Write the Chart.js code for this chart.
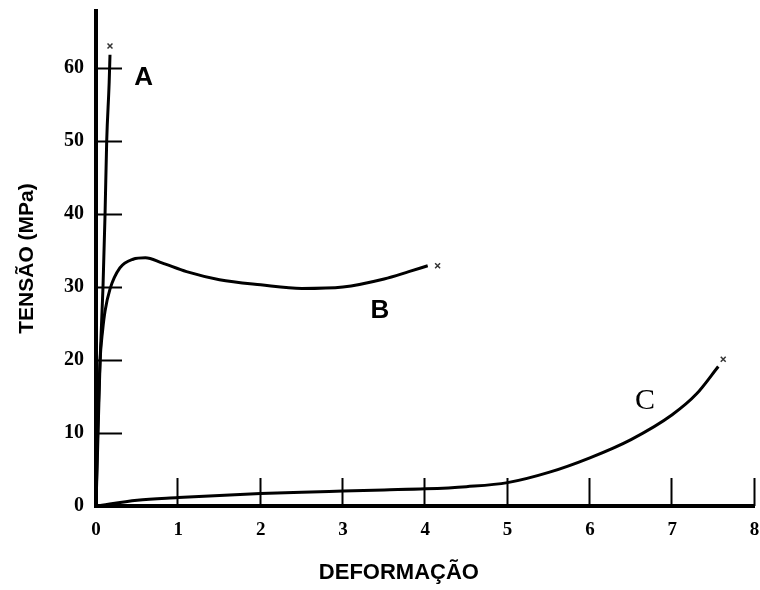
<!DOCTYPE html>
<html>
<head>
<meta charset="utf-8">
<script src="https://cdn.jsdelivr.net/npm/chart.js@4/dist/chart.umd.min.js"></script>
<style>
  html, body { margin: 0; padding: 0; background: #fff; }
  #chart { display: block; }
</style>
</head>
<body>
<canvas id="chart" width="760" height="590"></canvas>
<script>
// strain (x) and stress in MPa (y)
const strainA = [0, 0.02, 0.05, 0.085, 0.11, 0.13, 0.16, 0.17];
const stressA = [0, 8, 20, 30, 40, 50, 58, 61.8];

const strainB = [0, 0.02, 0.05, 0.08, 0.11, 0.17, 0.29, 0.45, 0.6, 0.8, 1.1, 1.5, 2, 2.5, 3, 3.5, 3.8, 4.03];
const stressB = [0, 10, 20, 24, 26.7, 29.7, 32.6, 33.8, 34, 33.3, 32.1, 31.0, 30.3, 29.8, 30.0, 31.1, 32.1, 32.9];

const strainC = [0, 0.5, 1, 1.5, 2, 2.5, 3, 3.5, 4, 4.5, 5, 5.5, 6, 6.5, 7, 7.3, 7.56];
const stressC = [0, 0.8, 1.15, 1.45, 1.7, 1.9, 2.05, 2.2, 2.35, 2.65, 3.2, 4.6, 6.6, 9.1, 12.5, 15.4, 19.1];

// fracture marks (x) at the end of each curve
const breakStrain = [0.17, 4.15, 7.62];
const breakStress = [63.0, 32.9, 20.1];

// curve names and where they sit
const curveNames = ['A', 'B', 'C'];
const curveNameX = [0.58, 3.45, 6.67];
const curveNameY = [58.7, 26.8, 14.3];

const xTicks = [0, 1, 2, 3, 4, 5, 6, 7, 8];
const yTicks = [0, 10, 20, 30, 40, 50, 60];

const xTitle = 'DEFORMAÇÃO';
const yTitle = 'TENSÃO (MPa)';

function toPoints(xs, ys) {
    return xs.map((x, i) => ({ x: x, y: ys[i] }));
}

function curve(label, xs, ys) {
    return {
        label: label,
        data: toPoints(xs, ys),
        showLine: true,
        borderColor: '#000',
        borderWidth: 3,
        pointRadius: 0,
        fill: false,
        cubicInterpolationMode: 'monotone'
    };
}

// inward tick marks, curve names and x title
const decorations = {
    id: 'decorations',
    afterDraw(chart) {
        const ctx = chart.ctx;
        const xs = chart.scales.x;
        const ys = chart.scales.y;
        const area = chart.chartArea;
        ctx.save();
        ctx.strokeStyle = '#000';
        ctx.lineWidth = 2;
        yTicks.forEach(v => {
            if (v === 0) return;
            const py = Math.round(ys.getPixelForValue(v)) + 0.5;
            ctx.beginPath();
            ctx.moveTo(area.left, py);
            ctx.lineTo(area.left + 26, py);
            ctx.stroke();
        });
        xTicks.forEach(v => {
            if (v === 0) return;
            const px = Math.round(xs.getPixelForValue(v)) - 0.5;
            ctx.beginPath();
            ctx.moveTo(px, area.bottom);
            ctx.lineTo(px, area.bottom - 28);
            ctx.stroke();
        });

        ctx.fillStyle = '#000';
        ctx.textAlign = 'center';
        ctx.textBaseline = 'middle';
        curveNames.forEach((name, i) => {
            ctx.font = name === 'C' ? '30px "Liberation Serif"' : 'bold 26px "Liberation Sans"';
            ctx.fillText(name, xs.getPixelForValue(curveNameX[i]), ys.getPixelForValue(curveNameY[i]));
        });

        ctx.font = 'bold 22px "Liberation Sans"';
        ctx.fillText(xTitle, xs.getPixelForValue(3.68), 573);
        ctx.restore();
    }
};

new Chart(document.getElementById('chart'), {
    type: 'scatter',
    data: {
        datasets: [
            curve('A', strainA, stressA),
            curve('B', strainB, stressB),
            curve('C', strainC, stressC),
            {
                label: 'ruptura',
                data: toPoints(breakStrain, breakStress),
                showLine: false,
                pointStyle: 'crossRot',
                pointRadius: 3.5,
                borderColor: '#333',
                borderWidth: 1.5
            }
        ]
    },
    options: {
        responsive: false,
        animation: false,
        layout: { padding: { left: 0, right: 4, top: 11, bottom: 0 } },
        plugins: {
            legend: { display: false },
            tooltip: { enabled: false }
        },
        scales: {
            x: {
                type: 'linear',
                min: 0,
                max: 8,
                afterBuildTicks: s => { s.ticks = xTicks.map(v => ({ value: v })); },
                afterFit: s => { s.height = 84; s.paddingLeft = 0; s.paddingRight = 0; },
                grid: { display: true, drawOnChartArea: false, drawTicks: false },
                border: { display: true, color: '#000', width: 4 },
                ticks: {
                    color: '#000',
                    padding: 13,
                    maxRotation: 0,
                    font: { family: '"Liberation Serif"', size: 19, weight: 'bold' }
                },
                title: { display: false }
            },
            y: {
                type: 'linear',
                min: 0,
                max: 67.8,
                afterBuildTicks: s => { s.ticks = yTicks.map(v => ({ value: v })); },
                afterFit: s => { s.width = 96; s.paddingTop = 0; s.paddingBottom = 0; },
                grid: { display: true, drawOnChartArea: false, drawTicks: false },
                border: { display: true, color: '#000', width: 4 },
                ticks: {
                    color: '#000',
                    padding: 12,
                    font: { family: '"Liberation Serif"', size: 20, weight: 'bold' }
                },
                title: {
                    display: true,
                    text: yTitle,
                    color: '#000',
                    padding: { top: 15, bottom: 0 },
                    font: { family: '"Liberation Sans"', size: 21, weight: 'bold' }
                }
            }
        }
    },
    plugins: [decorations]
});
</script>
</body>
</html>
